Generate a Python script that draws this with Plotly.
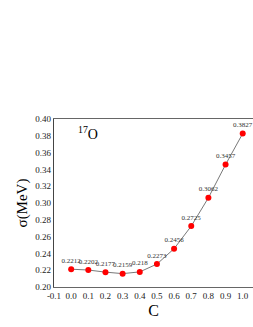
import plotly.graph_objects as go

c_values = [0.0, 0.1, 0.2, 0.3, 0.4, 0.5, 0.6, 0.7, 0.8, 0.9, 1.0]
sigma = [0.2212, 0.2202, 0.2177, 0.2159, 0.218, 0.2273, 0.2456, 0.2725, 0.3062, 0.3457, 0.3827]
point_labels = ["0.2212", "0.2202", "0.2177", "0.2159", "0.218", "0.2273", "0.2456", "0.2725", "0.3062", "0.3457", "0.3827"]
x_ticks = [-0.1, 0.0, 0.1, 0.2, 0.3, 0.4, 0.5, 0.6, 0.7, 0.8, 0.9, 1.0]
y_ticks = [0.20, 0.22, 0.24, 0.26, 0.28, 0.30, 0.32, 0.34, 0.36, 0.38, 0.40]

serif = "Liberation Serif, Times New Roman, serif"

fig = go.Figure()
fig.add_trace(go.Scatter(
    x=c_values, y=sigma, mode="lines+markers+text",
    line=dict(color="#555555", width=0.8),
    marker=dict(color="#ff0000", size=6),
    text=point_labels, textposition="top center",
    textfont=dict(family=serif, size=7, color="#333333"),
    cliponaxis=False, showlegend=False, hoverinfo="skip",
))

fig.add_annotation(x=0.03, y=0.383, xref="x", yref="y", text="<sup>17</sup>O",
                   showarrow=False, xanchor="left", yanchor="middle",
                   font=dict(family=serif, size=14, color="#000000"))

fig.update_layout(
    width=253, height=327,
    margin=dict(l=54, r=0, t=119, b=40),
    paper_bgcolor="white", plot_bgcolor="white",
    font=dict(family=serif, color="#000000"),
    xaxis=dict(range=[-0.1, 1.06], tickvals=x_ticks, ticktext=[f"{v:.1f}" for v in x_ticks],
               showgrid=False, zeroline=False, showline=True, linecolor="#666666", linewidth=1.2,
               mirror=True, ticks="", tickfont=dict(family=serif, size=9, color="#222222"),
               title=dict(text="C", font=dict(family=serif, size=16), standoff=4)),
    yaxis=dict(range=[0.20, 0.40], tickvals=y_ticks, ticktext=[f"{v:.2f}" for v in y_ticks],
               showgrid=False, zeroline=False, showline=True, linecolor="#444444", linewidth=1.2,
               ticks="", tickfont=dict(family=serif, size=9, color="#222222"),
               title=dict(text="σ(MeV)", font=dict(family=serif, size=15), standoff=4)),
)

fig.write_html("out.html", config={"displayModeBar": False},
               post_script="document.body.style.margin='0';document.body.style.overflow='hidden';")
